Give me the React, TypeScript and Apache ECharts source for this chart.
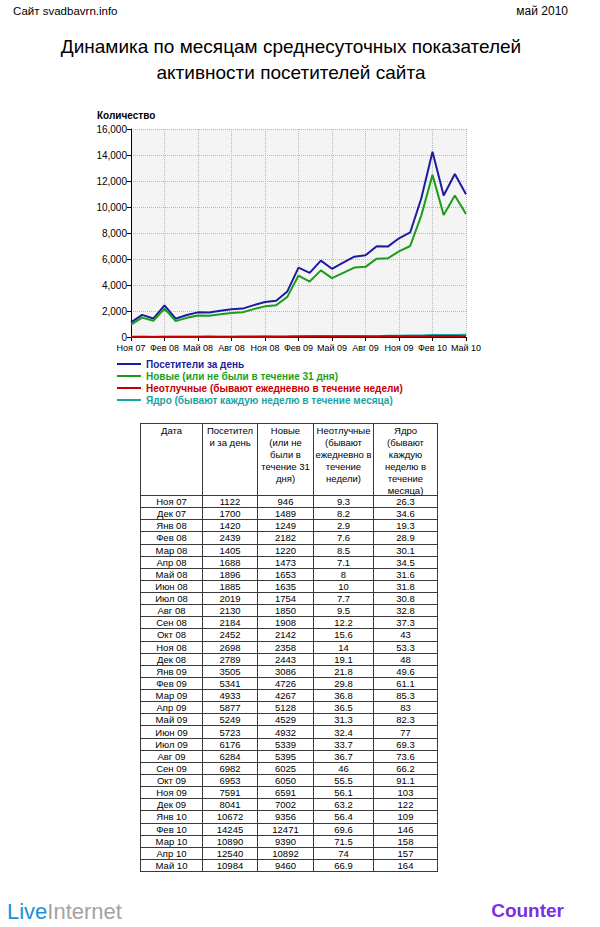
import React, { useEffect, useRef } from "react";
import * as echarts from "echarts";

const months = [
  "Ноя 07", "Дек 07", "Янв 08", "Фев 08", "Мар 08", "Апр 08", "Май 08", "Июн 08",
  "Июл 08", "Авг 08", "Сен 08", "Окт 08", "Ноя 08", "Дек 08", "Янв 09", "Фев 09",
  "Мар 09", "Апр 09", "Май 09", "Июн 09", "Июл 09", "Авг 09", "Сен 09", "Окт 09",
  "Ноя 09", "Дек 09", "Янв 10", "Фев 10", "Мар 10", "Апр 10", "Май 10",
];
const visitors = [
  1122, 1700, 1420, 2439, 1405, 1688, 1896, 1885, 2019, 2130, 2184, 2452, 2698, 2789, 3505, 5341,
  4933, 5877, 5249, 5723, 6176, 6284, 6982, 6953, 7591, 8041, 10672, 14245, 10890, 12540, 10984,
];
const newVisitors = [
  946, 1489, 1249, 2182, 1220, 1473, 1653, 1635, 1754, 1850, 1908, 2142, 2358, 2443, 3086, 4726,
  4267, 5128, 4529, 4932, 5339, 5395, 6025, 6050, 6591, 7002, 9356, 12471, 9390, 10892, 9460,
];
const loyal = [
  9.3, 8.2, 2.9, 7.6, 8.5, 7.1, 8, 10, 7.7, 9.5, 12.2, 15.6, 14, 19.1, 21.8, 29.8,
  36.8, 36.5, 31.3, 32.4, 33.7, 36.7, 46, 55.5, 56.1, 63.2, 56.4, 69.6, 71.5, 74, 66.9,
];
const core = [
  26.3, 34.6, 19.3, 28.9, 30.1, 34.5, 31.6, 31.8, 30.8, 32.8, 37.3, 43, 53.3, 48, 49.6, 61.1,
  85.3, 83, 82.3, 77, 69.3, 73.6, 66.2, 91.1, 103, 122, 109, 146, 158, 157, 164,
];

const seriesNames = [
  "Посетители за день",
  "Новые (или не были в течение 31 дня)",
  "Неотлучные (бывают ежедневно в течение недели)",
  "Ядро (бывают каждую неделю в течение месяца)",
];
const seriesColors = ["#1c1ca0", "#1a9e1a", "#c40000", "#1aa3a3"];

const tableHeaders = [
  ["Дата"],
  ["Посетител", "и за день"],
  ["Новые", "(или не", "были в", "течение 31", "дня)"],
  ["Неотлучные", "(бывают", "ежедневно в", "течение", "недели)"],
  ["Ядро", "(бывают", "каждую", "неделю в", "течение", "месяца)"],
];

const FONT = "Arial, sans-serif";

export default function App() {
  const ref = useRef<HTMLDivElement>(null);

  useEffect(() => {
    const chart = echarts.init(ref.current!, null, { renderer: "svg" });

    const colX = [140, 202, 257, 313, 373, 437];
    const tableTop = 423;
    const headerBottom = 495;
    const rowH = 12.13;
    const nRows = months.length;
    const tableBottom = headerBottom + rowH * nRows;

    const graphics: any[] = [];
    const line = (x1: number, y1: number, x2: number, y2: number) => ({
      type: "line",
      silent: true,
      shape: { x1, y1, x2, y2 },
      style: { stroke: "#3a3a3a", lineWidth: 1 },
    });
    colX.forEach((x) => graphics.push(line(x + 0.5, tableTop, x + 0.5, Math.round(tableBottom) + 0.5)));
    graphics.push(line(colX[0], tableTop + 0.5, colX[5] + 1, tableTop + 0.5));
    for (let i = 0; i <= nRows; i++) {
      const y = Math.round(headerBottom + i * rowH) + 0.5;
      graphics.push(line(colX[0], y, colX[5] + 1, y));
    }
    const txt = (x: number, y: number, text: string) => ({
      type: "text",
      silent: true,
      x,
      y,
      style: {
        text,
        fill: "#000",
        fontSize: 9.5,
        fontFamily: FONT,
        align: "center",
        verticalAlign: "middle",
      },
    });
    tableHeaders.forEach((lines, c) => {
      const cx = (colX[c] + colX[c + 1]) / 2 + 0.5;
      lines.forEach((l, k) => graphics.push(txt(cx, 430 + k * 12, l)));
    });
    const cols = [months, visitors, newVisitors, loyal, core];
    for (let r = 0; r < nRows; r++) {
      const cy = headerBottom + (r + 0.5) * rowH + 0.5;
      cols.forEach((arr, c) => {
        const cx = (colX[c] + colX[c + 1]) / 2 + 0.5;
        graphics.push(txt(cx, cy, String(arr[r])));
      });
    }

    graphics.push({
      type: "text",
      x: 13,
      y: 11,
      style: { text: "Сайт svadbavrn.info", fill: "#000", fontSize: 11.5, fontFamily: FONT, verticalAlign: "middle" },
    });
    graphics.push({
      type: "text",
      x: 568,
      y: 11,
      style: { text: "май 2010", fill: "#000", fontSize: 12, fontFamily: FONT, align: "right", verticalAlign: "middle" },
    });
    graphics.push({
      type: "text",
      x: 291,
      y: 46,
      style: {
        text: "Динамика по месяцам среднесуточных показателей",
        fill: "#000",
        fontSize: 19,
        fontFamily: FONT,
        align: "center",
        verticalAlign: "middle",
      },
    });
    graphics.push({
      type: "text",
      x: 291,
      y: 72,
      style: {
        text: "активности посетителей сайта",
        fill: "#000",
        fontSize: 19,
        fontFamily: FONT,
        align: "center",
        verticalAlign: "middle",
      },
    });
    graphics.push({
      type: "text",
      x: 97,
      y: 115,
      style: { text: "Количество", fill: "#000", fontSize: 10, fontWeight: "bold", fontFamily: FONT, verticalAlign: "middle" },
    });
    graphics.push({
      type: "text",
      x: 7,
      y: 911,
      style: {
        text: "{a|Live}{b|Internet}",
        verticalAlign: "middle",
        rich: {
          a: { fill: "#1a8fd8", fontSize: 22, fontFamily: FONT },
          b: { fill: "#a3a3a3", fontSize: 22, fontFamily: FONT },
        },
      },
    });
    graphics.push({
      type: "text",
      x: 564,
      y: 910,
      style: {
        text: "Counter",
        fill: "#7b2fe0",
        fontSize: 19,
        fontWeight: "bold",
        fontFamily: FONT,
        align: "right",
        verticalAlign: "middle",
      },
    });

    const dataSets = [visitors, newVisitors, loyal, core];

    chart.setOption({
      animation: false,
      backgroundColor: "#fff",
      textStyle: { fontFamily: FONT },
      grid: {
        left: 131,
        right: 134,
        top: 129,
        bottom: 590,
        show: true,
        backgroundColor: "#f4f4f4",
        borderWidth: 0,
      },
      legend: {
        orient: "vertical",
        left: 117,
        top: 358,
        itemGap: 0,
        itemWidth: 24,
        itemHeight: 2,
        itemTextGap: 6,
        icon: "rect",
        selectedMode: false,
        padding: 0,
        data: seriesNames.map((n, i) => ({
          name: n,
          textStyle: { color: seriesColors[i], fontWeight: "bold", fontSize: 10, fontFamily: FONT, lineHeight: 12 },
        })),
      },
      xAxis: {
        type: "category",
        data: months,
        boundaryGap: false,
        axisLine: { lineStyle: { color: "#000", width: 1 } },
        axisTick: { interval: 2, length: 4, lineStyle: { color: "#000" } },
        axisLabel: { interval: 2, color: "#000", fontSize: 9, fontFamily: FONT, margin: 6 },
        splitLine: { show: true, interval: 2, lineStyle: { type: "dotted", color: "#b8b8b8", width: 1 } },
      },
      yAxis: {
        type: "value",
        min: 0,
        max: 16000,
        interval: 2000,
        axisLine: { show: true, lineStyle: { color: "#000", width: 1 } },
        axisTick: { show: true, length: 4, lineStyle: { color: "#000" } },
        axisLabel: {
          color: "#000",
          fontSize: 10,
          fontFamily: FONT,
          margin: 4,
          formatter: (v: number) => v.toLocaleString("en-US"),
        },
        splitLine: { show: true, lineStyle: { type: "dotted", color: "#b8b8b8", width: 1 } },
      },
      series: seriesNames.map((n, i) => ({
        name: n,
        type: "line",
        data: dataSets[i],
        showSymbol: false,
        symbol: "none",
        lineStyle: { color: seriesColors[i], width: 2 },
        itemStyle: { color: seriesColors[i] },
        z: i === 2 ? 4 : 3,
      })),
      graphic: graphics,
    });

    return () => chart.dispose();
  }, []);

  return (
    <div
      ref={ref}
      style={{ position: "absolute", left: 0, top: 0, width: 600, height: 927, background: "#fff" }}
    />
  );
}
